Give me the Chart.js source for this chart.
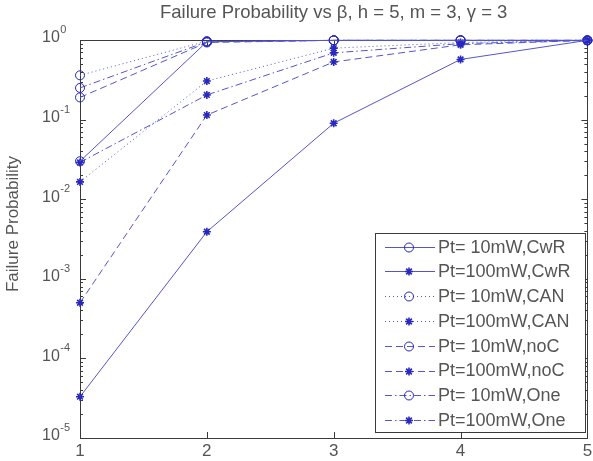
<!DOCTYPE html>
<html><head><meta charset="utf-8">
<script src="https://cdn.jsdelivr.net/npm/chart.js@4"></script>
<style>html,body{margin:0;padding:0;background:#fff}#wrap{width:593px;height:461px}</style>
</head><body><div id="wrap"><canvas id="c" width="593" height="461"></canvas></div>
<script>
// ---- data ----
const betaValues = [1, 2, 3, 4, 5];
const cwr10  = [0.030, 0.95, 0.99, 0.99, 0.99];
const cwr100 = [3.3e-5, 0.0039, 0.090, 0.57, 0.99];
const can10  = [0.36, 0.97, 0.99, 0.99, 0.99];
const can100 = [0.0165, 0.305, 0.79, 0.93, 0.99];
const noc10  = [0.19, 0.93, 0.99, 0.99, 0.99];
const noc100 = [5.0e-4, 0.114, 0.53, 0.87, 0.99];
const one10  = [0.25, 0.95, 0.99, 0.99, 0.99];
const one100 = [0.029, 0.204, 0.69, 0.90, 0.99];
const seriesLabels = ['Pt= 10mW,CwR','Pt=100mW,CwR','Pt= 10mW,CAN','Pt=100mW,CAN',
                      'Pt= 10mW,noC','Pt=100mW,noC','Pt= 10mW,One','Pt=100mW,One'];
const xTickLabels = ['1','2','3','4','5'];
const yTickExponents = [0, -1, -2, -3, -4, -5];
const titleText = 'Failure Probability vs \u03B2, h = 5, m = 3, \u03B3 = 3';
const yAxisTitle = 'Failure Probability';

// ---- styles ----
const seriesValues = [cwr10, cwr100, can10, can100, noc10, noc100, one10, one100];
const dashes = { solid: [], dotted: [1, 3], dashed: [7, 4], dashdot: [7, 3, 1.5, 3] };
const styleOf = [dashes.solid, dashes.solid, dashes.dotted, dashes.dotted,
                 dashes.dashed, dashes.dashed, dashes.dashdot, dashes.dashdot];
const lineColor = 'rgb(85,85,205)';
const markColor = 'rgb(40,40,190)';
const textColor = '#555';
const FONT = '"Liberation Sans", Arial, Helvetica, sans-serif';

const datasets = seriesValues.map((vals, i) => ({
  label: seriesLabels[i],
  data: vals.map((v, j) => ({ x: betaValues[j], y: v })),
  borderColor: lineColor,
  borderWidth: 1,
  borderDash: styleOf[i],
  pointStyle: i % 2 === 0 ? 'circle' : 'star',
  pointRadius: i % 2 === 0 ? 4.5 : 4,
  pointBorderColor: markColor,
  pointBackgroundColor: 'rgba(0,0,0,0)',
  pointBorderWidth: i % 2 === 0 ? 1 : 1.6,
  fill: false,
  tension: 0,
  clip: false
}));

function drawMarker(ctx, style, x, y) {
  ctx.save();
  ctx.setLineDash([]);
  ctx.strokeStyle = markColor;
  ctx.beginPath();
  if (style === 'circle') {
    ctx.lineWidth = 1;
    ctx.arc(x, y, 4.5, 0, Math.PI * 2);
  } else {
    ctx.lineWidth = 1.6;
    const r = 4;
    for (let k = 0; k < 4; k++) {
      const a = k * Math.PI / 4;
      ctx.moveTo(x - r * Math.cos(a), y - r * Math.sin(a));
      ctx.lineTo(x + r * Math.cos(a), y + r * Math.sin(a));
    }
  }
  ctx.stroke();
  ctx.restore();
}

const axesPlugin = {
  id: 'matlabAxes',
  beforeDatasetsDraw(chart) {
    const { ctx, chartArea: a, scales: { x: xs, y: ys } } = chart;
    ctx.save();
    ctx.strokeStyle = '#3a3a3a';
    ctx.lineWidth = 1;
    ctx.setLineDash([]);
    ctx.strokeRect(Math.round(a.left) + 0.5, Math.round(a.top) + 0.5,
                   Math.round(a.right - a.left), Math.round(a.bottom - a.top));
    ctx.beginPath();
    yTickExponents.forEach(e => {
      const y = Math.round(ys.getPixelForValue(Math.pow(10, e))) + 0.5;
      ctx.moveTo(a.left, y); ctx.lineTo(a.left + 6, y);
      ctx.moveTo(a.right, y); ctx.lineTo(a.right - 6, y);
      if (e > -5) {
        for (let k = 2; k <= 9; k++) {
          const ym = Math.round(ys.getPixelForValue(k * Math.pow(10, e - 1))) + 0.5;
          ctx.moveTo(a.left, ym); ctx.lineTo(a.left + 3, ym);
          ctx.moveTo(a.right, ym); ctx.lineTo(a.right - 3, ym);
        }
      }
    });
    betaValues.forEach(v => {
      const x = Math.round(xs.getPixelForValue(v)) + 0.5;
      ctx.moveTo(x, a.bottom); ctx.lineTo(x, a.bottom - 6);
      ctx.moveTo(x, a.top); ctx.lineTo(x, a.top + 6);
    });
    ctx.stroke();

    ctx.fillStyle = textColor;
    ctx.textAlign = 'center';
    ctx.textBaseline = 'middle';
    ctx.font = '17px ' + FONT;
    xTickLabels.forEach((t, i) => {
      ctx.fillText(t, xs.getPixelForValue(betaValues[i]), a.bottom + 13);
    });
    yTickExponents.forEach(e => {
      const y = ys.getPixelForValue(Math.pow(10, e));
      ctx.textAlign = 'left';
      ctx.font = '16px ' + FONT;
      ctx.fillText('10', 42, y - 2);
      const w = ctx.measureText('10').width;
      ctx.font = '11px ' + FONT;
      ctx.fillText(e === 0 ? '0' : '-' + Math.abs(e), 42 + w + 0.5, y - 10);
    });

    ctx.textAlign = 'center';
    ctx.textBaseline = 'alphabetic';
    ctx.font = '18.5px ' + FONT;
    ctx.fillText(titleText, (a.left + a.right) / 2, 18);

    ctx.save();
    ctx.translate(13, 224);
    ctx.rotate(-Math.PI / 2);
    ctx.textBaseline = 'middle';
    ctx.font = '17px ' + FONT;
    ctx.fillText(yAxisTitle, 0, 0);
    ctx.restore();
    ctx.restore();
  },
  afterDatasetsDraw(chart) {
    const { ctx } = chart;
    const L = 375, T = 233, R = 585, B = 432;
    ctx.save();
    ctx.fillStyle = '#fff';
    ctx.fillRect(L, T, R - L, B - T);
    ctx.strokeStyle = '#3a3a3a';
    ctx.lineWidth = 1;
    ctx.setLineDash([]);
    ctx.strokeRect(L + 0.5, T + 0.5, R - L, B - T);
    seriesLabels.forEach((lab, i) => {
      const y = 246.7 + i * 24.76;
      ctx.save();
      ctx.strokeStyle = lineColor;
      ctx.lineWidth = 1;
      ctx.setLineDash(styleOf[i]);
      ctx.beginPath();
      ctx.moveTo(385, Math.round(y) + 0.5);
      ctx.lineTo(435, Math.round(y) + 0.5);
      ctx.stroke();
      ctx.restore();
      drawMarker(ctx, i % 2 === 0 ? 'circle' : 'star', 409, Math.round(y) + 0.5);
      ctx.fillStyle = textColor;
      ctx.font = '18px ' + FONT;
      ctx.textAlign = 'left';
      ctx.textBaseline = 'middle';
      ctx.fillText(lab, 438, y + 1);
    });
    ctx.restore();
  }
};

new Chart(document.getElementById('c'), {
  type: 'line',
  data: { datasets },
  options: {
    responsive: false,
    animation: false,
    devicePixelRatio: 1,
    layout: { padding: { left: 80, right: 5, top: 40, bottom: 23 } },
    scales: {
      x: { type: 'linear', min: 1, max: 5, display: false },
      y: { type: 'logarithmic', min: 1e-5, max: 1, display: false }
    },
    plugins: { legend: { display: false }, title: { display: false }, tooltip: { enabled: false } }
  },
  plugins: [axesPlugin]
});
</script>
</body></html>
